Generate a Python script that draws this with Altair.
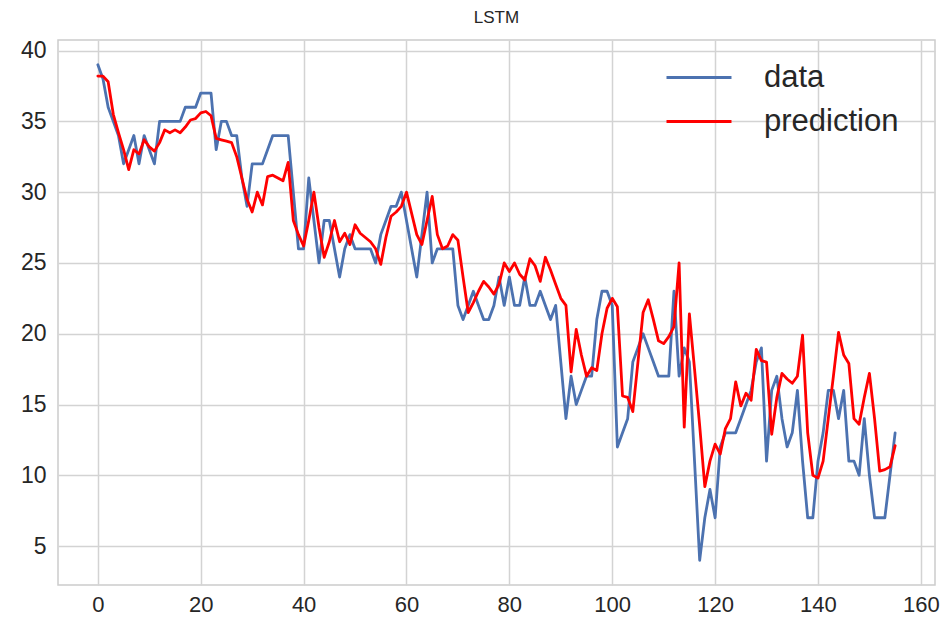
import altair as alt
import pandas as pd

title_text = "LSTM"
series_names = ["data", "prediction"]
x_ticks = [0, 20, 40, 60, 80, 100, 120, 140, 160]
y_ticks = [5, 10, 15, 20, 25, 30, 35, 40]

data_values = [
    39, 38, 36, 35, 34, 32, 33, 34, 32, 34,
    33, 32, 35, 35, 35, 35, 35, 36, 36, 36,
    37, 37, 37, 33, 35, 35, 34, 34, 31, 29,
    32, 32, 32, 33, 34, 34, 34, 34, 30, 26,
    26, 31, 28, 25, 28, 28, 26, 24, 26, 27,
    26, 26, 26, 26, 25, 27, 28, 29, 29, 30,
    28, 26, 24, 27, 30, 25, 26, 26, 26, 26,
    22, 21, 22, 23, 22, 21, 21, 22, 24, 22,
    24, 22, 22, 24, 22, 22, 23, 22, 21, 22,
    18, 14, 17, 15, 16, 17, 17, 21, 23, 23,
    22, 12, 13, 14, 18, 19, 20, 19, 18, 17,
    17, 17, 23, 17, 19, 18, 11, 4, 7, 9,
    7, 12, 13, 13, 13, 14, 15, 16, 18, 19,
    11, 16, 17, 14, 12, 13, 16, 11, 7, 7,
    11, 13, 16, 16, 14, 16, 11, 11, 10, 14,
    10, 7, 7, 7, 10, 13,
]

prediction_values = [
    38.2, 38.2, 37.8, 35.5, 34.2, 33.0, 31.6, 33.0, 32.7, 33.7,
    33.2, 32.9, 33.5, 34.4, 34.2, 34.4, 34.2, 34.6, 35.1, 35.2,
    35.6, 35.7, 35.4, 33.8, 33.7, 33.6, 33.5, 32.5, 31.0, 29.5,
    28.6, 30.0, 29.1, 31.1, 31.2, 31.0, 30.8, 32.1, 28.0, 27.0,
    26.2, 28.0, 30.0, 27.5, 25.4, 26.5, 28.0, 26.5, 27.1, 26.3,
    27.7, 27.1, 26.8, 26.5, 26.0, 24.9, 26.8, 28.3, 28.6, 29.0,
    30.0, 28.5, 27.0, 26.3, 28.0, 29.7, 27.0, 26.0, 26.2, 27.0,
    26.6, 24.0, 21.5, 22.2, 23.0, 23.7, 23.3, 22.8, 23.5, 25.0,
    24.4, 25.0, 24.2, 23.8, 25.3, 24.8, 23.7, 25.4, 24.5, 23.5,
    22.5, 22.0, 17.3, 20.3, 18.5, 17.0, 17.6, 17.4, 20.0, 21.8,
    22.5, 21.9, 15.6, 15.5, 14.5, 18.0, 21.5, 22.4, 21.0, 19.5,
    19.3, 19.8, 20.5, 25.0, 13.4, 21.4, 17.5, 13.5, 9.2, 11.0,
    12.2, 11.5, 13.3, 14.0, 16.6, 14.9, 15.8, 15.3, 18.9, 18.1,
    18.0, 12.9, 15.5, 17.2, 16.8, 16.5, 17.0, 19.9, 13.0, 10.0,
    9.8, 11.0, 14.0, 17.0, 20.1, 18.5, 17.9, 14.0, 13.6, 15.5,
    17.2, 14.0, 10.3, 10.4, 10.6, 12.1,
]

rows = []
for name, vals in zip(series_names, [data_values, prediction_values]):
    for i, v in enumerate(vals):
        rows.append({"index": i, "value": v, "series": name})
df = pd.DataFrame(rows)

n = len(data_values) - 1
x_margin = n * 0.05
y_lo, y_hi = min(data_values + prediction_values), max(data_values + prediction_values)
y_margin = (y_hi - y_lo) * 0.05

axis_style = dict(title=None, labelFont="Liberation Sans", labelColor="#262626",
                  grid=True, gridColor="#d3d3d3", gridWidth=1.5,
                  domain=False, ticks=False)

chart = (
    alt.Chart(df)
    .mark_line(strokeWidth=2.8, strokeCap="round", strokeJoin="round")
    .encode(
        x=alt.X(
            "index:Q",
            scale=alt.Scale(domain=[-x_margin, n + x_margin], nice=False, zero=False),
            axis=alt.Axis(values=x_ticks, labelPadding=9, labelFontSize=22, **axis_style),
        ),
        y=alt.Y(
            "value:Q",
            scale=alt.Scale(domain=[y_lo - y_margin, y_hi + y_margin], nice=False, zero=False),
            axis=alt.Axis(values=y_ticks, labelPadding=12, labelFontSize=23, **axis_style),
        ),
        color=alt.Color(
            "series:N",
            scale=alt.Scale(domain=series_names, range=["#4c72b0", "#ff0000"]),
            legend=alt.Legend(
                title=None,
                orient="none",
                legendX=593,
                legendY=22,
                symbolType="M0,0H8",
                symbolSize=264,
                symbolStrokeWidth=2.8,
                labelFontSize=31,
                labelFont="Liberation Sans",
                labelColor="#262626",
                labelOffset=82,
                rowPadding=12,
                padding=0,
            ),
        ),
        order=alt.Order("series:N"),
    )
    .properties(
        width=877,
        height=545,
        title=alt.TitleParams(title_text, fontSize=17, fontWeight="normal",
                              font="Liberation Sans", color="#262626", offset=13),
        autosize=alt.AutoSizeParams(type="none"),
        padding={"left": 50, "top": 32, "right": 5, "bottom": 30},
        background="white",
    )
    .configure_view(stroke="#cccccc", strokeWidth=1.5)
)

chart.save("out.html", embed_options={"renderer": "svg", "actions": False})
